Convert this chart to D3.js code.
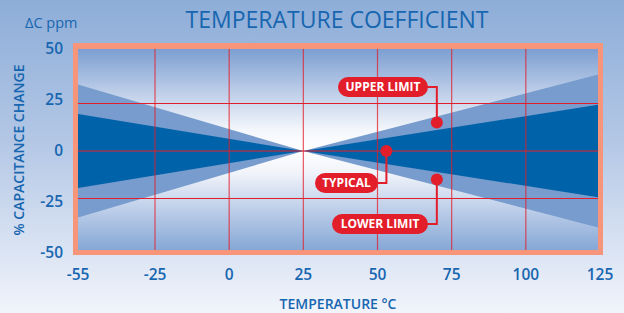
<!DOCTYPE html>
<html><head><meta charset="utf-8">
<script src="https://cdn.jsdelivr.net/npm/d3@7"></script>
<style>html,body{margin:0;padding:0;overflow:hidden;}svg{display:block;}</style>
</head><body>
<script>
// ---- data ----
const temps = [-55, 25, 125];
const lightUpper = [35, 0, 40.5];
const lightLower = [-35, 0, -40.5];
const darkUpper = [19.5, 0, 24.5];
const darkLower = [-19.5, 0, -24.5];
const xTicks = [-55, -25, 0, 25, 50, 75, 100, 125];
const xGrid = [-25, 0, 25, 50, 75, 100];
const yTicks = [50, 25, 0, -25, -50];
const yGrid = [25, 0, -25];
const callouts = [
  {label: "UPPER LIMIT", t: 70, v: 15},
  {label: "TYPICAL", t: 53, v: 0},
  {label: "LOWER LIMIT", t: 70, v: -15}
];

const W = 624, H = 313;
const blue = "#1766b0";
const red = "#e31e2b";
const font = "'Open Sans', 'Noto Sans', sans-serif";

const svg = d3.select("body").append("svg").attr("width", W).attr("height", H);
const defs = svg.append("defs");
const bg = defs.append("linearGradient").attr("id", "bg").attr("x1", 0).attr("y1", 0).attr("x2", 0).attr("y2", 1);
[[0, "#8dadd8"], [0.45, "#b3c7e5"], [1, "#f1f4fb"]].forEach(s => bg.append("stop").attr("offset", s[0]).attr("stop-color", s[1]));
const pg = defs.append("linearGradient").attr("id", "pg").attr("x1", 0).attr("y1", 0).attr("x2", 0).attr("y2", 1);
[[0, "#7c9ed1"], [0.2, "#b9cbe7"], [0.4, "#f3f6fb"], [0.5, "#ffffff"], [0.62, "#f0f3fa"], [0.82, "#b7cae7"], [1, "#86a7d6"]].forEach(s => pg.append("stop").attr("offset", s[0]).attr("stop-color", s[1]));

svg.append("rect").attr("width", W).attr("height", H).attr("fill", "url(#bg)");

const plot = {l: 78, r: 598, t: 49, b: 250};
const x = d3.scaleLinear().domain([-55, -25, 125]).range([78, 155, 600]);
const y = d3.scaleLinear().domain([-50, 50]).range([246, 56]);
const yLab = d3.scaleLinear().domain([-50, 50]).range([252, 48]);

defs.append("clipPath").attr("id", "clip").append("rect")
  .attr("x", plot.l).attr("y", plot.t).attr("width", plot.r - plot.l).attr("height", plot.b - plot.t);

// frame
svg.append("rect").attr("x", plot.l - 5).attr("y", plot.t - 6).attr("width", plot.r - plot.l + 10).attr("height", plot.b - plot.t + 11).attr("fill", "#f7957b");
svg.append("rect").attr("x", plot.l).attr("y", plot.t).attr("width", plot.r - plot.l).attr("height", plot.b - plot.t).attr("fill", "url(#pg)");

const g = svg.append("g").attr("clip-path", "url(#clip)");
const area = (up, lo) => d3.area().x((d, i) => x(temps[i])).y0((d, i) => y(lo[i])).y1((d, i) => y(up[i]))(temps);
g.append("path").attr("d", area(lightUpper, lightLower)).attr("fill", "#779ccd");
g.append("path").attr("d", area(darkUpper, darkLower)).attr("fill", "#0062a9");

// grid
g.selectAll(".vg").data(xGrid).join("line").attr("x1", d => x(d)).attr("x2", d => x(d))
  .attr("y1", plot.t).attr("y2", plot.b).attr("stroke", red).attr("stroke-opacity", 0.75).attr("stroke-width", 1.2);
g.selectAll(".hg").data(yGrid).join("line").attr("y1", d => y(d)).attr("y2", d => y(d))
  .attr("x1", plot.l).attr("x2", plot.r).attr("stroke", red).attr("stroke-width", 1.2);

// axes labels
svg.selectAll(".xt").data(xTicks).join("text").attr("x", d => x(d)).attr("y", 280)
  .attr("text-anchor", "middle").attr("font-family", font).attr("font-weight", 600).attr("font-size", 15.5).attr("fill", blue).text(d => d);
svg.selectAll(".yt").data(yTicks).join("text").attr("x", 63).attr("y", d => yLab(d)).attr("dy", "0.36em")
  .attr("text-anchor", "end").attr("font-family", font).attr("font-weight", 600).attr("font-size", 15.5).attr("fill", blue).text(d => d);

svg.append("text").attr("x", 337).attr("y", 28).attr("text-anchor", "middle").attr("font-family", font)
  .attr("font-size", 23).attr("fill", blue).text("TEMPERATURE COEFFICIENT");
svg.append("text").attr("x", 25).attr("y", 28).attr("font-family", font).attr("font-size", 14.5).attr("fill", blue).text("ΔC ppm");
svg.append("text").attr("x", 338).attr("y", 309).attr("text-anchor", "middle").attr("font-family", font)
  .attr("font-weight", 600).attr("font-size", 14).attr("fill", blue).text("TEMPERATURE °C");
svg.append("text").attr("transform", "translate(24,150) rotate(-90)").attr("text-anchor", "middle").attr("font-family", font)
  .attr("font-weight", 600).attr("font-size", 14).attr("fill", blue).text("% CAPACITANCE CHANGE");

// callouts (pill layout positions)
const pills = [
  {x: 338, y: 77, w: 90, h: 20},
  {x: 315, y: 173, w: 63, h: 20},
  {x: 332, y: 214, w: 96, h: 20}
];
callouts.forEach((c, i) => {
  const p = pills[i];
  const cx = x(c.t), cy = y(c.v);
  const my = p.y + p.h / 2;
  svg.append("path").attr("d", `M${p.x + p.w - 4},${my}H${cx}V${cy}`).attr("fill", "none").attr("stroke", red).attr("stroke-width", 2);
  svg.append("rect").attr("x", p.x).attr("y", p.y).attr("width", p.w).attr("height", p.h).attr("rx", 10).attr("fill", red);
  svg.append("text").attr("x", p.x + p.w / 2).attr("y", my).attr("dy", "0.36em").attr("text-anchor", "middle")
    .attr("font-family", font).attr("font-weight", 700).attr("font-size", 12).attr("fill", "#fff").text(c.label);
  svg.append("circle").attr("cx", cx).attr("cy", cy).attr("r", 6).attr("fill", red);
});
</script>
</body></html>
